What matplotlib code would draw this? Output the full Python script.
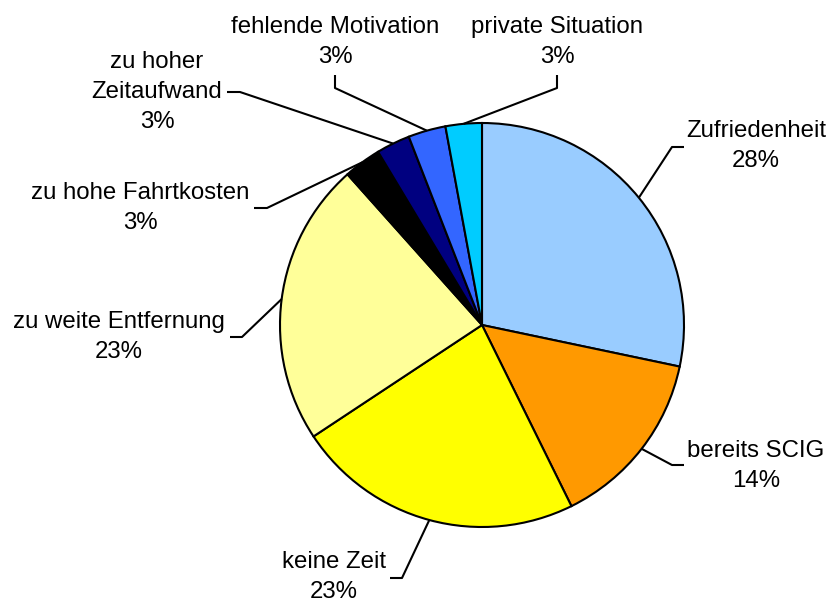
import numpy as np
import matplotlib
matplotlib.use("Agg")
import matplotlib.pyplot as plt

plt.rcParams["font.family"] = ["Liberation Sans", "DejaVu Sans"]

# data (share of answers, percent)
categories = ["Zufriedenheit", "bereits SCIG", "keine Zeit", "zu weite Entfernung",
              "zu hohe Fahrtkosten", "zu hoher\nZeitaufwand", "fehlende Motivation",
              "private Situation"]
values = [28.3, 14.4, 23.0, 22.7, 3.0, 2.7, 3.0, 2.9]
colors = ["#99CCFF", "#FF9900", "#FFFF00", "#FFFF99",
          "#000000", "#000080", "#3366FF", "#00CCFF"]

W, H = 832, 602
CX, CY, R = 482, 325, 202

# label layout in pixel coords (y measured from top): text centre, elbow, stub end
layout = [
    ((756, 146), (672, 147), (684, 147)),
    ((756, 466), (672, 465), (684, 465)),
    ((334, 577), (402, 578), (390, 578)),
    ((119, 337), (242, 337), (230, 337)),
    ((140, 208), (267, 208), (254, 208)),
    ((157, 92), (240, 92), (227, 92)),
    ((335, 42), (335, 88), (335, 75)),
    ((557, 42), (557, 88), (557, 75)),
]

fig = plt.figure(figsize=(W / 100, H / 100), dpi=100)
ax = fig.add_axes([0, 0, 1, 1])

wedges, _ = ax.pie(values, colors=colors, startangle=90, counterclock=False,
                   radius=R, center=(CX, H - CY),
                   wedgeprops=dict(edgecolor="black", linewidth=1.5))
ax.set_xlim(0, W)
ax.set_ylim(0, H)
ax.set_aspect("equal")
ax.axis("off")

total = sum(values)
for w, name, v, (txt, elbow, stub) in zip(wedges, categories, values, layout):
    mid = np.deg2rad((w.theta1 + w.theta2) / 2)
    ex = CX + R * np.cos(mid)
    ey = (H - CY) + R * np.sin(mid)
    ax.plot([ex, elbow[0], stub[0]], [ey, H - elbow[1], H - stub[1]],
            color="black", lw=1.5, solid_capstyle="butt", zorder=3)
    ax.text(txt[0], H - txt[1], "%s\n%d%%" % (name, round(v / total * 100)),
            ha="center", va="center", multialignment="center",
            fontsize=17.3, linespacing=1.5, color="black")

fig.savefig("out.png", dpi=100)
